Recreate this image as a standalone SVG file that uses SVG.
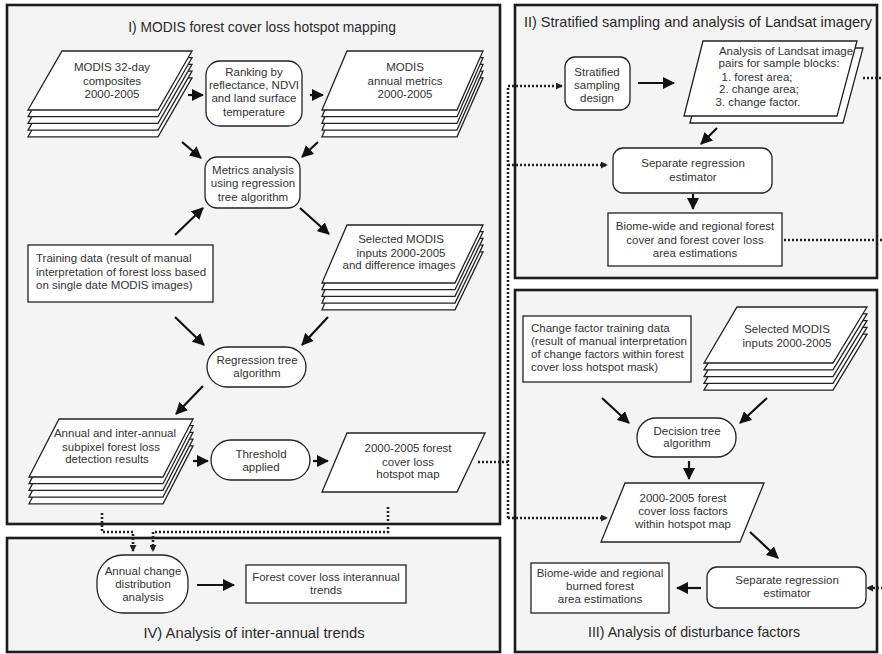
<svg xmlns="http://www.w3.org/2000/svg" xmlns:xlink="http://www.w3.org/1999/xlink" width="882" height="654" viewBox="0 0 882 654">
<style>
.panel{fill:#f4f4f4;stroke:#1c1c1c;stroke-width:2.6}
.node{fill:#fff;stroke:#222;stroke-width:1.3}
.t{font-family:"Liberation Sans",Arial,Helvetica,sans-serif;font-size:11.5px;fill:#333;text-anchor:middle}
.l{text-anchor:start}
.ttl{font-size:14.5px;fill:#2a2a2a}
.arr{fill:none;stroke:#111;stroke-width:2.2;marker-end:url(#ah)}
.dot{fill:none;stroke:#222;stroke-width:2.6;stroke-dasharray:2 2}
.dota{marker-end:url(#ahs)}
</style>
<defs>
<marker id="ah" viewBox="0 0 12 12" refX="11" refY="6" markerWidth="12" markerHeight="12" markerUnits="userSpaceOnUse" orient="auto">
<path d="M0,0 L12,6 L0,12 Z" fill="#111"/>
</marker>
<marker id="ahs" viewBox="0 0 8 8" refX="7" refY="4" markerWidth="7" markerHeight="7" markerUnits="userSpaceOnUse" orient="auto">
<path d="M0,0 L8,4 L0,8 Z" fill="#222"/>
</marker>
<polygon id="p1" points="62,51 192,51 158,110 28,110"/>
<polygon id="p2" points="347,51 483,51 457,110 322,110"/>
<polygon id="p3" points="347,225 483,225 455,283 322,283"/>
<polygon id="p4" points="59,419 193,419 163,477 29,477"/>
<polygon id="p5" points="737,307 867,307 833,363 704,363"/>
<polygon id="pL" points="703,41 857,41 837,116 684,116"/>
</defs>
<rect width="882" height="654" fill="#fff"/>

<g id="panels">
<rect class="panel" x="7" y="5" width="493" height="519"/>
<rect class="panel" x="7" y="538" width="493" height="114"/>
<rect class="panel" x="515" y="5" width="362" height="273"/>
<rect class="panel" x="515" y="290" width="362" height="362"/>
<text class="t ttl" x="262" y="32" style="font-size:13.8px">I) MODIS forest cover loss hotspot mapping</text>
<text class="t ttl" x="698" y="27">II) Stratified sampling and analysis of Landsat imagery</text>
<text class="t ttl" x="694" y="637" style="font-size:14.2px">III) Analysis of disturbance factors</text>
<text class="t ttl" x="254" y="638" style="font-size:14.8px">IV) Analysis of inter-annual trends</text>
</g>

<g id="connectors">
<line class="arr" x1="188" y1="95" x2="203" y2="95"/>
<line class="arr" x1="310" y1="95" x2="323" y2="95"/>
<line class="arr" x1="182" y1="142" x2="201" y2="158"/>
<line class="arr" x1="318" y1="142" x2="302" y2="157"/>
<line class="arr" x1="175" y1="235" x2="203" y2="208"/>
<line class="arr" x1="300" y1="208" x2="329" y2="234"/>
<line class="arr" x1="175" y1="317" x2="204" y2="345"/>
<line class="arr" x1="328" y1="317" x2="302" y2="345"/>
<line class="arr" x1="203" y1="386" x2="176" y2="414"/>
<line class="arr" x1="193" y1="461" x2="208" y2="461"/>
<line class="arr" x1="313" y1="461" x2="328" y2="461"/>
<line class="arr" x1="197" y1="585" x2="234" y2="585"/>
<line class="arr" x1="638" y1="83" x2="674" y2="83"/>
<line class="arr" x1="717" y1="128" x2="701" y2="144"/>
<line class="arr" x1="693" y1="194" x2="693" y2="209"/>
<line class="arr" x1="602" y1="398" x2="629" y2="423"/>
<line class="arr" x1="767" y1="398" x2="740" y2="423"/>
<line class="arr" x1="689" y1="461" x2="689" y2="479"/>
<line class="arr" x1="750" y1="532" x2="778" y2="558"/>
<line class="arr" x1="701" y1="588" x2="677" y2="588"/>

<path class="dot dota" d="M508,518 V86 H562"/>
<path class="dot dota" d="M508,165 H607"/>
<path class="dot dota" d="M508,518 H607"/>
<path class="dot" d="M478,462 H508"/>
<path class="dot dota" d="M863,78 H884 V588 H867"/>
<path class="dot" d="M784,240 H884"/>
<path class="dot dota" d="M102,513 V532 H133 V551"/>
<path class="dot dota" d="M388,507 V532 H153 V551"/>
</g>

<g id="n-modis32">
<use xlink:href="#p1" class="node" y="26.8"/><use xlink:href="#p1" class="node" y="20.1"/><use xlink:href="#p1" class="node" y="13.4"/><use xlink:href="#p1" class="node" y="6.7"/><use xlink:href="#p1" class="node"/>
<text class="t" x="112" y="71">MODIS 32-day</text>
<text class="t" x="112" y="85">composites</text>
<text class="t" x="112" y="98">2000-2005</text>
</g>
<g id="n-ranking">
<rect class="node" x="206" y="61" width="96" height="65" rx="14"/>
<text class="t" x="254" y="76">Ranking by</text>
<text class="t" x="254" y="89">reflectance, NDVI</text>
<text class="t" x="254" y="102">and land surface</text>
<text class="t" x="254" y="116">temperature</text>
</g>
<g id="n-annualmetrics">
<use xlink:href="#p2" class="node" y="26.8"/><use xlink:href="#p2" class="node" y="20.1"/><use xlink:href="#p2" class="node" y="13.4"/><use xlink:href="#p2" class="node" y="6.7"/><use xlink:href="#p2" class="node"/>
<text class="t" x="405" y="71">MODIS</text>
<text class="t" x="405" y="85">annual metrics</text>
<text class="t" x="405" y="98">2000-2005</text>
</g>
<g id="n-metrics">
<rect class="node" x="205" y="157" width="95" height="51" rx="12"/>
<text class="t" x="253" y="174">Metrics analysis</text>
<text class="t" x="253" y="187">using regression</text>
<text class="t" x="253" y="201">tree algorithm</text>
</g>
<g id="n-selected">
<use xlink:href="#p3" class="node" y="26.8"/><use xlink:href="#p3" class="node" y="20.1"/><use xlink:href="#p3" class="node" y="13.4"/><use xlink:href="#p3" class="node" y="6.7"/><use xlink:href="#p3" class="node"/>
<text class="t" x="401" y="243">Selected MODIS</text>
<text class="t" x="401" y="257">inputs 2000-2005</text>
<text class="t" x="399" y="269">and difference images</text>
</g>
<g id="n-training">
<rect class="node" x="28" y="245" width="185" height="57"/>
<text class="t l" x="36" y="262">Training data (result of manual</text>
<text class="t l" x="36" y="276">interpretation of forest loss based</text>
<text class="t l" x="36" y="289">on single date MODIS images)</text>
</g>
<g id="n-regtree">
<rect class="node" x="207" y="347" width="99" height="40" rx="20"/>
<text class="t" x="257" y="364">Regression tree</text>
<text class="t" x="257" y="377">algorithm</text>
</g>
<g id="n-subpixel">
<use xlink:href="#p4" class="node" y="26.8"/><use xlink:href="#p4" class="node" y="20.1"/><use xlink:href="#p4" class="node" y="13.4"/><use xlink:href="#p4" class="node" y="6.7"/><use xlink:href="#p4" class="node"/>
<text class="t" x="115" y="437">Annual and inter-annual</text>
<text class="t" x="111" y="451">subpixel forest loss</text>
<text class="t" x="107" y="463">detection results</text>
</g>
<g id="n-threshold">
<rect class="node" x="211" y="440" width="99" height="40" rx="20"/>
<text class="t" x="261" y="458">Threshold</text>
<text class="t" x="261" y="471">applied</text>
</g>
<g id="n-hotspotmap">
<polygon class="node" points="347,433 485,433 457,492 322,492"/>
<text class="t" x="408" y="452">2000-2005 forest</text>
<text class="t" x="408" y="466">cover loss</text>
<text class="t" x="408" y="478">hotspot map</text>
</g>

<g id="n-annualchange">
<rect class="node" x="97" y="555" width="91" height="58" rx="26"/>
<text class="t" x="143" y="575">Annual change</text>
<text class="t" x="143" y="588">distribution</text>
<text class="t" x="143" y="601">analysis</text>
</g>
<g id="n-trends">
<rect class="node" x="246" y="565" width="160" height="38"/>
<text class="t" x="326" y="581">Forest cover loss interannual</text>
<text class="t" x="326" y="594">trends</text>
</g>

<g id="n-stratified">
<rect class="node" x="565" y="57" width="65" height="53" rx="10"/>
<text class="t" x="597" y="76">Stratified</text>
<text class="t" x="597" y="89">sampling</text>
<text class="t" x="597" y="102">design</text>
</g>
<g id="n-landsat">
<use xlink:href="#pL" class="node" x="6" y="7"/><use xlink:href="#pL" class="node"/>
<text class="t" x="786" y="55">Analysis of Landsat image</text>
<text class="t" x="779" y="67">pairs for sample blocks:</text>
<text class="t" x="757" y="81">1. forest area;</text>
<text class="t" x="759" y="93">2. change area;</text>
<text class="t" x="758" y="106">3. change factor.</text>
</g>
<g id="n-sepreg2">
<rect class="node" x="613" y="148" width="159" height="45" rx="10"/>
<text class="t" x="693" y="167">Separate regression</text>
<text class="t" x="693" y="181">estimator</text>
</g>
<g id="n-biome2">
<rect class="node" x="608" y="213" width="174" height="53"/>
<text class="t" x="695" y="230">Biome-wide and regional forest</text>
<text class="t" x="695" y="244">cover and forest cover loss</text>
<text class="t" x="695" y="257">area estimations</text>
</g>

<g id="n-changetraining">
<rect class="node" x="523" y="316" width="168" height="66"/>
<text class="t l" x="531" y="332">Change factor training data</text>
<text class="t l" x="531" y="345">(result of manual interpretation</text>
<text class="t l" x="531" y="358">of change factors within forest</text>
<text class="t l" x="531" y="371">cover loss hotspot mask)</text>
</g>
<g id="n-selected3">
<use xlink:href="#p5" class="node" y="27.2"/><use xlink:href="#p5" class="node" y="20.4"/><use xlink:href="#p5" class="node" y="13.6"/><use xlink:href="#p5" class="node" y="6.8"/><use xlink:href="#p5" class="node"/>
<text class="t" x="787" y="333">Selected MODIS</text>
<text class="t" x="787" y="347">inputs 2000-2005</text>
</g>
<g id="n-decision">
<rect class="node" x="637" y="418" width="99" height="39" rx="19"/>
<text class="t" x="687" y="435">Decision tree</text>
<text class="t" x="687" y="447">algorithm</text>
</g>
<g id="n-factors">
<polygon class="node" points="625,483 764,483 740,542 601,542"/>
<text class="t" x="683" y="502">2000-2005 forest</text>
<text class="t" x="683" y="515">cover loss factors</text>
<text class="t" x="683" y="528">within hotspot map</text>
</g>
<g id="n-sepreg3">
<rect class="node" x="707" y="567" width="159" height="41" rx="10"/>
<text class="t" x="787" y="584">Separate regression</text>
<text class="t" x="787" y="597">estimator</text>
</g>
<g id="n-biome3">
<rect class="node" x="531" y="563" width="138" height="50"/>
<text class="t" x="600" y="577">Biome-wide and regional</text>
<text class="t" x="600" y="590">burned forest</text>
<text class="t" x="600" y="603">area estimations</text>
</g>
</svg>
